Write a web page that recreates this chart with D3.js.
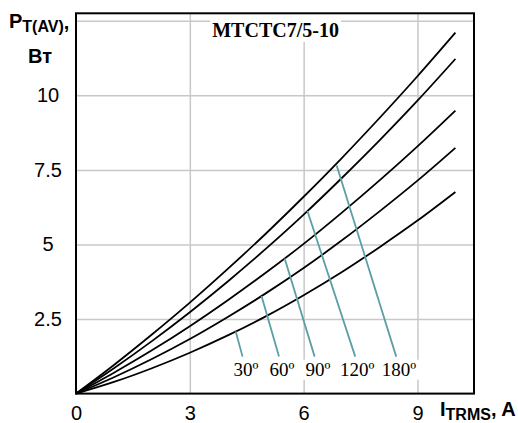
<!DOCTYPE html>
<html>
<head>
<meta charset="utf-8">
<script src="https://cdn.jsdelivr.net/npm/d3@7"></script>
<style>
  html, body { margin: 0; padding: 0; background: #fff; }
</style>
</head>
<body>
<div id="chart"></div>
<script>
// values
const currents = [0, 1, 2, 3, 4, 5, 6, 7, 8, 9, 10];
const p180 = [0, 0.96, 1.98, 3.05, 4.18, 5.36, 6.60, 7.89, 9.24, 10.64, 12.10];
const p120 = [0, 0.85, 1.76, 2.73, 3.76, 4.85, 6.00, 7.22, 8.49, 9.82, 11.22];
const p90 = [0, 0.70, 1.45, 2.26, 3.13, 4.05, 5.02, 6.06, 7.15, 8.29, 9.49];
const p60 = [0, 0.55, 1.16, 1.83, 2.57, 3.36, 4.21, 5.13, 6.11, 7.14, 8.24];
const p30 = [0, 0.39, 0.85, 1.37, 1.95, 2.59, 3.30, 4.07, 4.91, 5.80, 6.76];

const angleLabels = ["30º", "60º", "90º", "120º", "180º"];
const leaderTopX = [4.21, 4.89, 5.5, 6.1, 6.87];
const leaderTopY = [2.08, 3.27, 4.53, 6.12, 7.65];
const leaderBottomX = [4.39, 5.35, 6.29, 7.36, 8.44];
const leaderBottomY = 1.24;
const labelX = [4.48, 5.43, 6.38, 7.41, 8.51];
const labelY = 0.6;

const xTicks = [0, 3, 6, 9];
const yTicks = [2.5, 5, 7.5, 10];
const xGrid = [3, 6, 9];
const yGrid = [2.5, 5, 7.5, 10, 12.5];

const title = "MTCTC7/5-10";

const W = 518, H = 423;
const plot = { left: 76, right: 474, top: 13.3, bottom: 393.6 };

const x = d3.scaleLinear().domain([0, 10.49]).range([plot.left, plot.right]);
const y = d3.scaleLinear().domain([0, 12.75]).range([plot.bottom, plot.top]);

const svg = d3.select("#chart")
  .append("svg")
  .attr("width", W)
  .attr("height", H)
  .style("display", "block")
  .style("background", "#fff");

const sans = "'Liberation Sans', Arial, sans-serif";
const serif = "'Liberation Serif', 'Times New Roman', serif";

// grid
const gx = svg.append("g")
  .attr("transform", `translate(0,${plot.bottom})`)
  .call(d3.axisBottom(x).tickValues(xGrid).tickSize(-(plot.bottom - plot.top)).tickFormat(""));
const gy = svg.append("g")
  .attr("transform", `translate(${plot.left},0)`)
  .call(d3.axisLeft(y).tickValues(yGrid).tickSize(-(plot.right - plot.left)).tickFormat(""));
gx.select(".domain").remove();
gy.select(".domain").remove();
svg.selectAll(".tick line").attr("stroke", "#c8c8c8").attr("stroke-width", 1.5);

// title with white box behind it
const titleG = svg.append("g");
const titleText = titleG.append("text")
  .attr("x", x(5.26))
  .attr("y", 37)
  .attr("text-anchor", "middle")
  .style("font-family", serif)
  .style("font-weight", "bold")
  .style("font-size", "20px")
  .text(title);
const tb = titleText.node().getBBox();
titleG.insert("rect", "text")
  .attr("x", tb.x - 2)
  .attr("y", plot.top + 1)
  .attr("width", tb.width + 4)
  .attr("height", tb.y + tb.height - plot.top)
  .attr("fill", "#fff");

// curves
const series = [p180, p120, p90, p60, p30];
const line = d3.line()
  .x((d) => x(d[0]))
  .y((d) => y(d[1]))
  .curve(d3.curveMonotoneX);

svg.append("g")
  .selectAll("path")
  .data(series)
  .join("path")
  .attr("d", (s) => line(currents.map((c, i) => [c, s[i]])))
  .attr("fill", "none")
  .attr("stroke", "#000")
  .attr("stroke-width", 1.8);

// leader lines
svg.append("g")
  .selectAll("line")
  .data(angleLabels)
  .join("line")
  .attr("x1", (d, i) => x(leaderTopX[i]))
  .attr("y1", (d, i) => y(leaderTopY[i]))
  .attr("x2", (d, i) => x(leaderBottomX[i]))
  .attr("y2", y(leaderBottomY))
  .attr("stroke", "#5c9fa2")
  .attr("stroke-width", 1.8);

// angle labels
const labG = svg.append("g");
const labTexts = labG.selectAll("text")
  .data(angleLabels)
  .join("text")
  .attr("x", (d, i) => x(labelX[i]))
  .attr("y", y(labelY))
  .attr("text-anchor", "middle")
  .style("font-family", serif)
  .style("font-size", "19px")
  .text((d) => d);
let lx0 = Infinity, lx1 = -Infinity, ly0 = Infinity, ly1 = -Infinity;
labTexts.each(function () {
  const b = this.getBBox();
  lx0 = Math.min(lx0, b.x); lx1 = Math.max(lx1, b.x + b.width);
  ly0 = Math.min(ly0, b.y); ly1 = Math.max(ly1, b.y + b.height);
});
labG.insert("rect", "text")
  .attr("x", lx0 - 3)
  .attr("y", ly0 + 1)
  .attr("width", lx1 - lx0 + 6)
  .attr("height", ly1 - ly0 - 1)
  .attr("fill", "#fff");

// frame
svg.append("rect")
  .attr("x", plot.left)
  .attr("y", plot.top)
  .attr("width", plot.right - plot.left)
  .attr("height", plot.bottom - plot.top)
  .attr("fill", "none")
  .attr("stroke", "#000")
  .attr("stroke-width", 2);

// tick labels
const ax = svg.append("g")
  .attr("transform", `translate(0,${plot.bottom})`)
  .call(d3.axisBottom(x).tickValues(xTicks).tickSize(0).tickPadding(12).tickFormat(d3.format("d")));
const ay = svg.append("g")
  .attr("transform", `translate(${plot.left},0)`)
  .call(d3.axisLeft(y).tickValues(yTicks).tickSize(0).tickFormat((d) => String(d)));
ax.select(".domain").remove();
ay.select(".domain").remove();
ay.selectAll("text").attr("x", -28).attr("text-anchor", "middle");
svg.selectAll("g text").filter(function () { return this.closest(".tick"); })
  .style("font-family", sans)
  .style("font-size", "20px")
  .attr("fill", "#000");

// axis titles
const yt = svg.append("text")
  .attr("x", 9)
  .attr("y", 28)
  .style("font-family", sans)
  .style("font-weight", "bold")
  .style("font-size", "20px");
yt.append("tspan").text("P");
yt.append("tspan").attr("dy", 4).style("font-size", "16px").text("T(AV)");
yt.append("tspan").attr("dy", -3).text(",");

svg.append("text")
  .attr("x", 28)
  .attr("y", 63)
  .style("font-family", sans)
  .style("font-weight", "bold")
  .style("font-size", "20px")
  .text("Вт");

const xt = svg.append("text")
  .attr("x", 440)
  .attr("y", 416)
  .style("font-family", sans)
  .style("font-weight", "bold")
  .style("font-size", "20px");
xt.append("tspan").text("I");
xt.append("tspan").attr("dy", 3.5).style("font-size", "16px").text("TRMS");
xt.append("tspan").attr("dy", -3.5).text(", A");
</script>
</body>
</html>
